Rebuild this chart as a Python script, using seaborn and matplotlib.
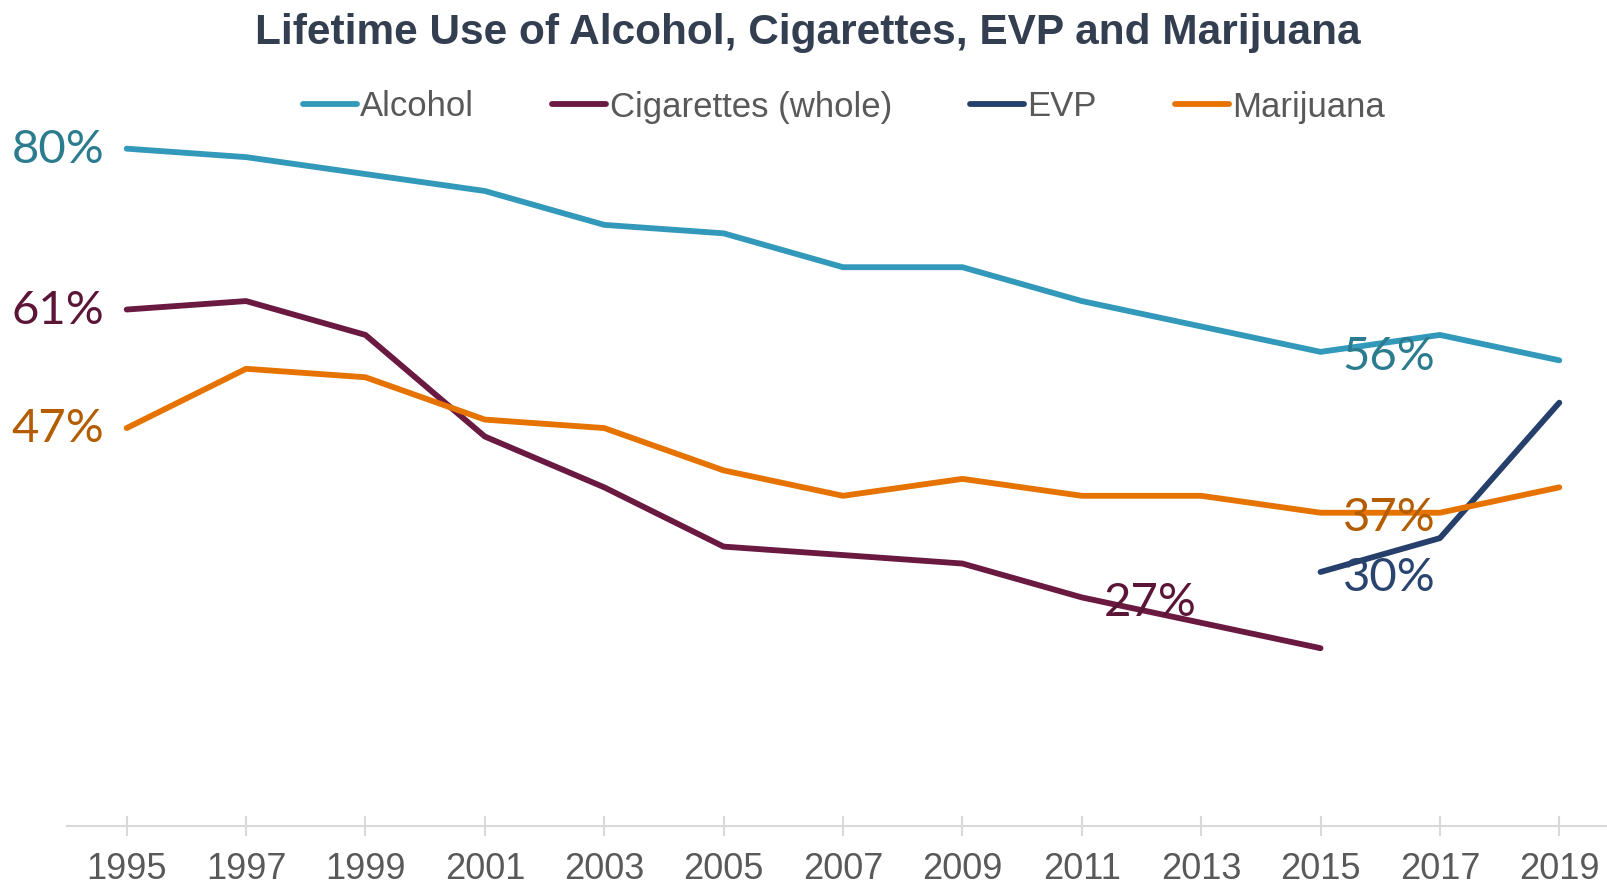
import matplotlib
matplotlib.use("Agg")
import matplotlib.pyplot as plt
import numpy as np
import pandas as pd
import seaborn as sns

# data (percent)
years = [1995, 1997, 1999, 2001, 2003, 2005, 2007, 2009, 2011, 2013, 2015, 2017, 2019]
alcohol = [80, 79, 77, 75, 71, 70, 66, 66, 62, 59, 56, 58, 55]
cigarettes = [61, 62, 58, 46, 40, 33, 32, 31, 27, 24, 21, None, None]
evp = [None, None, None, None, None, None, None, None, None, None, 30, 34, 50]
marijuana = [47, 54, 53, 48, 47, 42, 39, 41, 39, 39, 37, 37, 40]

series_names = ["Alcohol", "Cigarettes (whole)", "EVP", "Marijuana"]
line_colors = ["#3399BB", "#6A1A41", "#26406B", "#E67300"]
label_colors = ["#2B7C8F", "#5A1537", "#2A4470", "#B35C00"]

# which points get a value label, and on which side
point_labels = [
    ("Alcohol", 1995, "left"), ("Alcohol", 2015, "right"),
    ("Cigarettes (whole)", 1995, "left"), ("Cigarettes (whole)", 2011, "right"),
    ("EVP", 2015, "right"),
    ("Marijuana", 1995, "left"), ("Marijuana", 2015, "right"),
]

wide = pd.DataFrame({"year": years, "Alcohol": alcohol, "Cigarettes (whole)": cigarettes,
                     "EVP": evp, "Marijuana": marijuana})
df = wide.melt(id_vars="year", var_name="series", value_name="pct").dropna()

sns.set_style("white")
plt.rcParams["font.family"] = ["Liberation Sans", "DejaVu Sans"]

fig = plt.figure(figsize=(16.08, 8.88), dpi=100)
ax = fig.add_axes([67 / 1608, 62 / 888, 1552 / 1608, 762 / 888])

sns.lineplot(data=df, x="year", y="pct", hue="series", hue_order=series_names,
             palette=dict(zip(series_names, line_colors)), linewidth=4.2,
             solid_capstyle="round", ax=ax, legend=True)

ax.set_xlim(1994, 2020)
ax.set_ylim(0, 90)
ax.set_xticks(years)
ax.set_xticklabels([str(y) for y in years], fontsize=26, color="#595959")
ax.set_yticks([])
ax.set_xlabel("")
ax.set_ylabel("")
for s in ["top", "right", "left"]:
    ax.spines[s].set_visible(False)
ax.spines["bottom"].set_color("#D9D9D9")
ax.spines["bottom"].set_linewidth(1.5)
ax.tick_params(axis="x", bottom=True, direction="inout", length=14, width=1.5,
               color="#D9D9D9", pad=12)

# value labels
for name, yr, side in point_labels:
    v = wide.loc[wide["year"] == yr, name].iloc[0]
    c = label_colors[series_names.index(name)]
    if side == "left":
        ax.annotate(f"{v:.0f}%", (yr, v), xytext=(-16, -1), textcoords="offset points",
                    ha="right", va="center", fontsize=34, color=c, family="Lato")
    else:
        ax.annotate(f"{v:.0f}%", (yr, v), xytext=(16, -4), textcoords="offset points",
                    ha="left", va="center", fontsize=34, color=c, family="Lato")

# legend on top
handles, labels = ax.get_legend_handles_labels()
ax.legend(handles, labels, loc="center", bbox_to_anchor=(844 / 1608, 1 - 107 / 888),
          bbox_transform=fig.transFigure, ncol=4, frameon=False, fontsize=25,
          handlelength=1.55, handletextpad=0.1, columnspacing=2.25, labelcolor="#595959")

fig.text(808 / 1608, 1 - 44 / 888, "Lifetime Use of Alcohol, Cigarettes, EVP and Marijuana",
         ha="center", va="baseline", fontsize=30.5, fontweight="bold", color="#333F50")

fig.savefig("out.png", dpi=100)
